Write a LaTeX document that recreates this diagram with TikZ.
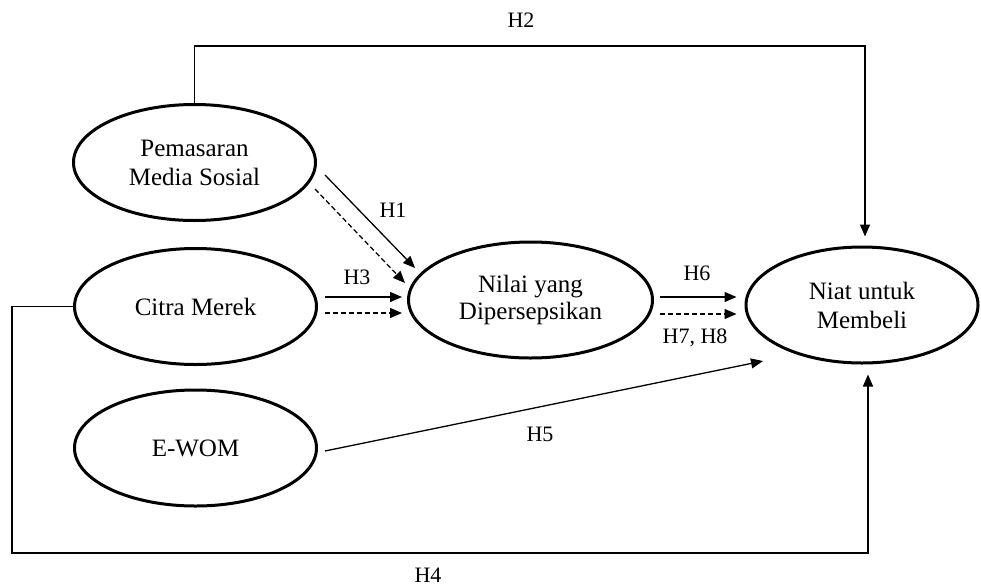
\documentclass[tikz,border=0pt]{standalone}
\usepackage{fontspec}
\setmainfont{Liberation Serif}
\usetikzlibrary{arrows.meta,shapes.geometric}
\begin{document}
\begin{tikzpicture}[x=1pt,y=-1pt,
  var/.style={draw,ellipse,line width=3pt,inner sep=0pt,align=center,
    minimum width=242pt,minimum height=116pt,font=\fontsize{25}{29}\selectfont},
  conn/.style={line width=1.3pt},
  arr/.style={conn,-{Triangle[length=12pt,width=10pt]}},
  darr/.style={arr,dash pattern=on 5pt off 3pt},
  lbl/.style={font=\fontsize{22}{26}\selectfont,inner sep=0pt}]
\useasboundingbox (0,0) rectangle (981,586);
% variables
\node[var] (pms) at (194.5,162.5) {Pemasaran\\Media Sosial};
\node[var] (cm) at (195.5,306.5) {Citra Merek};
\node[var] (ewom) at (195.5,448) {E-WOM};
\node[var,minimum width=244pt,font=\fontsize{25}{27}\selectfont] (nilai) at (530.5,300) {Nilai yang\\Dipersepsikan};
\node[var,minimum width=232pt] (niat) at (862,305) {Niat untuk\\Membeli};
% H1
\draw[arr] ([shift={(130.5,12.5)}]pms.center) -- ([shift={(-115.5,-32)}]nilai.center);
\draw[darr] ([shift={(120.5,26.5)}]pms.center) -- ([shift={(-125.5,-17)}]nilai.center);
% H3
\draw[arr] ([shift={(7,-9.5)}]cm.east) -- ([shift={(-5,-3)}]nilai.west);
\draw[darr] ([shift={(7,6.5)}]cm.east) -- ([shift={(-5,13)}]nilai.west);
% H6 / H7, H8
\draw[arr] ([shift={(6,-3)}]nilai.east) -- ([shift={(-8,-8)}]niat.west);
\draw[darr] ([shift={(6,14)}]nilai.east) -- ([shift={(-8,9)}]niat.west);
% H5
\draw[arr] ([shift={(7,3)}]ewom.east) -- ([shift={(-99,56)}]niat.center);
% H2
\draw[arr] (pms.north) |- (530,46) -| ([shift={(3,-9)}]niat.north);
% H4
\draw[arr] (cm.west) -| (12,553) -| ([shift={(6,10)}]niat.south);
% labels
\node[lbl] (h2) at (521,20) {H2};
\node[lbl] (h1) at (393,210) {H1};
\node[lbl] (h3) at (357,277) {H3};
\node[lbl] (h6) at (697,273) {H6};
\node[lbl] (h78) at (695,338) {H7, H8};
\node[lbl] (h5) at (540,434) {H5};
\node[lbl] (h4) at (428,575) {H4};
\end{tikzpicture}
\end{document}
